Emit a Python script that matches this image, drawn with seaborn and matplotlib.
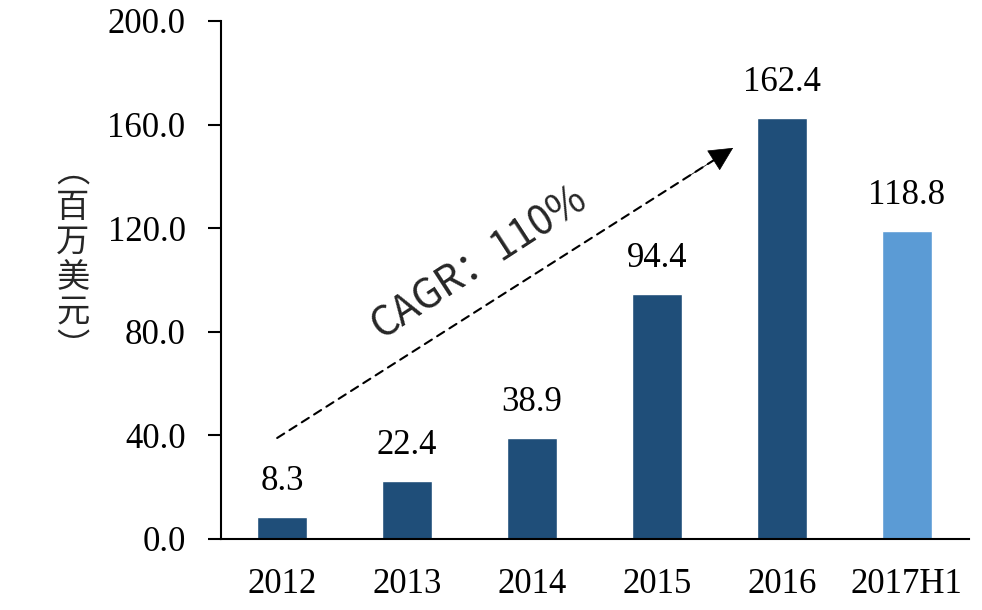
import matplotlib
matplotlib.use('Agg')
import matplotlib.pyplot as plt
import seaborn as sns
import pandas as pd

years = ['2012', '2013', '2014', '2015', '2016', '2017H1']
revenue = [8.3, 22.4, 38.9, 94.4, 162.4, 118.8]
bar_colors = ['#1f4e79', '#1f4e79', '#1f4e79', '#1f4e79', '#1f4e79', '#5b9bd5']
yticks = [0, 40, 80, 120, 160, 200]
arrow_start = (-0.04, 39.0)
arrow_end = (3.61, 151.0)

sns.set_style('white')
plt.rcParams['font.family'] = ['Liberation Serif', 'DejaVu Serif']

df = pd.DataFrame({'year': years, 'revenue': revenue})

fig = plt.figure(figsize=(9.82, 6.1), dpi=100)
ax = fig.add_axes([0.225, 0.1164, 0.762, 0.8492])
sns.barplot(data=df, x='year', y='revenue', hue='year', palette=bar_colors,
            legend=False, width=0.4, saturation=1, ax=ax)

for c in ax.containers:
    ax.bar_label(c, fmt='%.1f', padding=14, fontsize=25, color='black')

ax.set_xlim(-0.49, 5.5)
ax.set_ylim(0, 200)
ax.set_yticks(yticks)
ax.set_yticklabels([f'{v:.1f}' for v in yticks])
ax.set_xlabel('')
ax.set_ylabel('')
ax.tick_params(axis='y', left=True, direction='out', length=9.5, width=1.5, pad=16,
               labelsize=25, colors='black')
ax.tick_params(axis='x', bottom=False, length=0, pad=21, labelsize=25, colors='black')
for s in ['top', 'right']:
    ax.spines[s].set_visible(False)
for s in ['left', 'bottom']:
    ax.spines[s].set_linewidth(1.5)
    ax.spines[s].set_color('black')

# CAGR arrow: dashed shaft + solid head
ax.annotate('', xy=arrow_end, xytext=arrow_start,
            arrowprops=dict(arrowstyle='-', linestyle=(0, (4, 3)), lw=1.5,
                            color='black', shrinkA=0, shrinkB=8))
head_base = (arrow_end[0] - 0.1 * (arrow_end[0] - arrow_start[0]),
             arrow_end[1] - 0.1 * (arrow_end[1] - arrow_start[1]))
ax.annotate('', xy=arrow_end, xytext=head_base,
            arrowprops=dict(arrowstyle='-|>,head_length=0.8,head_width=0.4',
                            mutation_scale=20, lw=0.5, color='black',
                            shrinkA=0, shrinkB=0))
ax.text(1.58, 107, 'CAGR：110%', rotation=33, rotation_mode='anchor',
        ha='center', va='center', fontsize=29,
        family=['Noto Sans CJK SC', 'DejaVu Sans'])

fig.text(73 / 982, 1 - 260 / 610, '︵\n百\n万\n美\n元\n︶', ha='center', va='center',
         fontsize=24, linespacing=1.0, family=['Noto Sans CJK SC', 'DejaVu Sans'])

fig.savefig('out.png', dpi=100, facecolor='white')
